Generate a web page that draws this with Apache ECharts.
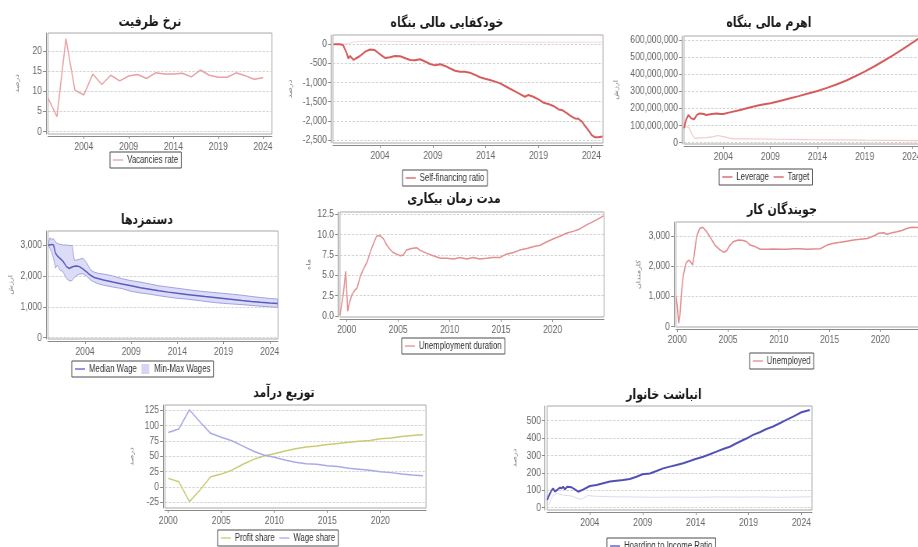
<!DOCTYPE html>
<html>
<head>
<meta charset="utf-8">
<script src="https://cdn.jsdelivr.net/npm/echarts@6/dist/echarts.min.js"></script>
<style>
html, body { margin: 0; padding: 0; background: #fff; overflow: hidden; width: 918px; height: 547px; }
/* the charts are drawn on a wider canvas and condensed horizontally */
#chart { width: 1177px; height: 547px; transform: scaleX(0.78); transform-origin: 0 0; }
</style>
</head>
<body>
<div id="chart"></div>
<script>
// ---------------- data ----------------
// Vacancies rate (yearly, %)
const vacancyYears = [2000, 2001, 2002, 2003, 2004, 2005, 2006, 2007, 2008, 2009, 2010, 2011, 2012,
  2013, 2014, 2015, 2016, 2017, 2018, 2019, 2020, 2021, 2022, 2023, 2024];
const vacancyRate = [8.3, 3.7, 23.1, 10.3, 9.1, 14.3, 11.7, 14.0, 12.6, 13.8, 14.2, 13.2, 14.6,
  14.3, 14.3, 14.5, 13.6, 15.3, 14.0, 13.5, 13.5, 14.6, 13.9, 13.0, 13.4];

// Firm self-financing ratio (%)
const selfFinYears = [1999.6, 2000.2, 2000.5, 2000.85, 2001.0, 2001.16, 2001.3, 2001.5, 2001.7, 2002.1,
  2002.6, 2003.05, 2003.5, 2004.0, 2004.5, 2004.95, 2005.4, 2005.9, 2006.4, 2006.84, 2007.3, 2007.8,
  2008.26, 2008.73, 2009.2, 2009.7, 2010.15, 2010.6, 2011.1, 2011.57, 2012.0, 2012.5, 2013.0, 2013.46,
  2013.94, 2014.4, 2014.9, 2015.36, 2015.83, 2016.3, 2016.78, 2017.25, 2017.7, 2018.04, 2018.5, 2019.0,
  2019.46, 2019.93, 2020.4, 2020.9, 2021.2, 2021.67, 2022.14, 2022.45, 2022.77, 2023.1, 2023.4, 2023.7,
  2024.03, 2024.35, 2024.66, 2025.05];
const selfFinRatio = [0, 0, -20, -235, -370, -305, -285, -410, -370, -305,
  -190, -135, -150, -260, -360, -340, -305, -310, -365, -410, -415, -390,
  -450, -515, -550, -520, -565, -625, -690, -715, -720, -740, -800, -860,
  -900, -930, -975, -1020, -1090, -1160, -1230, -1300, -1370, -1325, -1370, -1440,
  -1525, -1560, -1610, -1700, -1715, -1800, -1890, -1935, -1945, -2020, -2135, -2240,
  -2370, -2430, -2430, -2410];
// faint companion line near zero
const selfFinRefYears = [1999.6, 2000.5, 2001.0, 2001.5, 2002.5, 2003.5, 2005, 2007, 2010, 2013, 2016, 2019, 2022, 2025];
const selfFinRef = [0, 0, 20, 60, 80, 85, 75, 70, 65, 60, 60, 55, 55, 55];

// Firm leverage and target (millions)
const leverageYears = [1999.83, 1999.95, 2000.1, 2000.3, 2000.6, 2000.9, 2001.2, 2001.5, 2001.9, 2002.2,
  2002.76, 2003.3, 2003.65, 2004, 2004.7, 2005.8, 2006.8, 2007.9, 2009, 2010, 2011, 2012, 2013, 2014,
  2015, 2016, 2017, 2018, 2019, 2020, 2021, 2022, 2023, 2024, 2025.3];
const leverageM = [84, 115, 140, 162, 142, 136, 162, 171, 168, 162,
  168, 171, 168, 168, 177, 191, 205, 220, 230, 244, 258, 272, 287, 302,
  320, 340, 362, 388, 415, 445, 477, 510, 545, 582, 628];
const targetYears = [1999.83, 2000.1, 2000.4, 2000.7, 2001.0, 2001.5, 2002.2, 2003.0, 2003.4, 2004.0,
  2005, 2007, 2010, 2013, 2016, 2019, 2022, 2025.3];
const targetM = [84, 95, 85, 45, 25, 28, 30, 35, 42, 35, 22, 22, 20, 18, 17, 15, 14, 12];

// Wages: median and min-max band
const wageYears = [2000.0, 2000.2, 2000.4, 2000.6, 2000.8, 2001.0, 2001.3, 2001.6, 2002.0, 2002.3, 2002.6,
  2002.85, 2003.1, 2003.4, 2003.8, 2004.2, 2004.6, 2005.0, 2005.5, 2006, 2007, 2008, 2009, 2010, 2011,
  2012, 2013, 2014, 2015, 2016, 2017, 2018, 2019, 2020, 2021, 2022, 2023, 2024, 2024.85];
const wageMedian = [3000, 3000, 3020, 3000, 2740, 2650, 2570, 2480, 2300, 2240, 2290,
  2310, 2320, 2300, 2220, 2120, 2020, 1950, 1910, 1870, 1800, 1740, 1680, 1620, 1570,
  1520, 1475, 1435, 1400, 1365, 1330, 1300, 1270, 1235, 1200, 1170, 1145, 1125, 1110];
const wageMin = [3000, 2900, 2750, 2570, 2250, 2350, 2190, 2140, 1920, 1840, 1850,
  1950, 2010, 2060, 2070, 1990, 1870, 1800, 1740, 1700, 1640, 1590, 1500, 1450, 1410,
  1360, 1315, 1275, 1250, 1215, 1175, 1140, 1110, 1090, 1070, 1045, 1020, 1000, 980];
const wageMax = [3000, 3230, 3180, 3200, 3100, 3050, 3020, 3000, 3000, 2980, 2990,
  2510, 2510, 2540, 2570, 2420, 2190, 2120, 2080, 2060, 2000, 1910, 1845, 1800, 1740,
  1680, 1640, 1600, 1560, 1520, 1490, 1460, 1435, 1405, 1375, 1335, 1300, 1270, 1250];

// Unemployment duration (months)
const durationYears = [1999.35, 1999.68, 1999.9, 2000.0, 2000.1, 2000.26, 2000.5, 2000.8, 2001.0, 2001.3,
  2001.6, 2002.0, 2002.3, 2002.6, 2002.9, 2003.2, 2003.56, 2003.9, 2004.2, 2004.5, 2004.85, 2005.2,
  2005.5, 2005.8, 2006.3, 2006.8, 2007.1, 2007.8, 2008.4, 2009.1, 2009.7, 2010.4, 2011.0, 2011.65,
  2012.3, 2012.9, 2013.6, 2014.2, 2014.9, 2015.5, 2016.2, 2016.8, 2017.5, 2018.1, 2018.8, 2019.4,
  2020.1, 2020.7, 2021.4, 2022.0, 2022.65, 2023.3, 2023.95, 2024.4, 2024.95];
const durationMonths = [0.1, 2.8, 5.5, 3.2, 0.6, 1.6, 2.6, 3.2, 3.4, 4.8,
  5.7, 6.7, 7.9, 8.9, 9.8, 9.9, 9.5, 8.7, 8.2, 7.8, 7.6, 7.4,
  7.5, 8.1, 8.3, 8.4, 8.1, 7.7, 7.4, 7.1, 7.1, 7.0, 7.2, 7.0,
  7.2, 7.0, 7.1, 7.2, 7.2, 7.6, 7.8, 8.1, 8.3, 8.5, 8.7, 9.1,
  9.5, 9.8, 10.2, 10.4, 10.7, 11.2, 11.6, 11.9, 12.3];

// Unemployed job seekers (workers)
const unemployedYears = [1999.87, 2000.0, 2000.13, 2000.26, 2000.43, 2000.6, 2000.85, 2001.1, 2001.3, 2001.5,
  2001.64, 2001.9, 2002.2, 2002.5, 2002.8, 2003.2, 2003.7, 2004.2, 2004.6, 2004.87, 2005.2, 2005.5,
  2006.0, 2006.5, 2006.84, 2007.17, 2007.66, 2008.16, 2008.8, 2009.47, 2010.13, 2010.8, 2011.45, 2012.1,
  2012.76, 2013.4, 2014.08, 2014.74, 2015.4, 2016.05, 2016.7, 2017.37, 2018.0, 2018.7, 2019.34, 2019.84,
  2020.33, 2020.66, 2021.15, 2021.64, 2022.14, 2022.6, 2023.1, 2023.6, 2024.3];
const unemployedCount = [1000, 660, 110, 390, 1210, 1710, 2100, 2200, 2150, 2040,
  2320, 2980, 3250, 3290, 3180, 2980, 2700, 2540, 2460, 2520, 2700, 2810,
  2870, 2850, 2810, 2700, 2650, 2560, 2560, 2570, 2560, 2560, 2580, 2580,
  2560, 2570, 2580, 2700, 2760, 2790, 2830, 2870, 2890, 2920, 3000, 3090,
  3110, 3060, 3110, 3140, 3180, 3250, 3290, 3280, 3280];

// Income distribution (yearly, %)
const incomeYears = [2000, 2001, 2002, 2003, 2004, 2005, 2006, 2007, 2008, 2009, 2010, 2011, 2012,
  2013, 2014, 2015, 2016, 2017, 2018, 2019, 2020, 2021, 2022, 2023, 2024];
const profitShare = [14, 8.6, -24, -5, 16.7, 21, 27.4, 36.6, 44.6, 50.5, 54.3, 58.6, 62.4,
  65, 66.7, 69.4, 71, 73.1, 74.7, 75.8, 78.5, 80, 82.2, 83.8, 85];
const wageShare = [89, 94.6, 126, 106, 87.5, 81, 75.5, 67, 58.7, 52.2, 48.3, 44, 40.2,
  38, 37, 34.8, 33.2, 30.4, 28.8, 27.2, 25, 23.4, 21.2, 19.6, 18.5];

// Household hoarding to income ratio (%)
const hoardYears = [1999.97, 2000.16, 2000.38, 2000.54, 2000.69, 2000.85, 2001.17, 2001.32, 2001.48, 2001.64,
  2001.86, 2002.27, 2002.58, 2002.9, 2003.21, 2003.69, 2004, 2004.63, 2005.26, 2005.9, 2006.52, 2007.15,
  2007.78, 2008.41, 2008.98, 2009.67, 2010.3, 2010.93, 2011.56, 2012.19, 2012.82, 2013.45, 2013.92,
  2014.71, 2015.34, 2015.97, 2016.6, 2017.23, 2017.86, 2018.49, 2018.96, 2019.43, 2020.06, 2020.69,
  2021.32, 2021.95, 2022.58, 2023.21, 2024, 2024.79];
const hoardRatio = [44, 73, 100, 111, 92, 100, 115, 111, 121, 105,
  121, 117, 105, 92, 100, 115, 125, 130, 140, 150, 155, 159,
  165, 178, 192, 197, 211, 226, 236, 245, 255, 268, 278,
  293, 307, 322, 337, 350, 370, 389, 402, 418, 433, 452,
  466, 485, 504, 523, 548, 561];
const hoardRefYears = [2000.1, 2000.5, 2000.9, 2001.5, 2002.2, 2002.8, 2003.2, 2003.8, 2004.5, 2006, 2008,
  2010, 2012, 2014, 2016, 2018, 2020, 2022, 2024, 2024.9];
const hoardRef = [15, 70, 82, 72, 68, 55, 48, 70, 66, 63, 62, 60, 61, 60, 62, 61, 62, 60, 62, 63];

// Tick labels
const ticksFrom2004 = [2004, 2009, 2014, 2019, 2024];
const ticksFrom2000 = [2000, 2005, 2010, 2015, 2020];

// ---------------- drawing ----------------
// horizontal condensing applied by the CSS transform; page x positions are divided by it
const SX = 0.78;
const hx = v => v / SX;

const NUM_FONT = "'Liberation Sans',Arial,sans-serif";
const FA_FONT = "'DejaVu Sans',sans-serif";
const LINE_ICON = 'path://M0,0H16V1.6H0Z';
const SQUARE_ICON = 'path://M0,0H10V10H0Z';
const LEGEND_FONT_SIZE = 10;

const thousands = v => v.toLocaleString('en-US');
const oneDecimal = v => v.toFixed(1);

// layout of the eight panels (page pixels)
const panels = [
  { title: 'نرخ ظرفیت', tx: 146, ty: 10, box: [48, 33, 224, 101], x: [2000, 2025], xt: ticksFrom2004,
    y: [-0.6, 24.5], yt: [0, 5, 10, 15, 20], yname: 'درصد', gap: 26, fmt: thousands },
  { title: 'خودکفایی مالی بنگاه', tx: 443, ty: 11, box: [333, 35, 270, 108], x: [1999.55, 2025.1], xt: ticksFrom2004,
    y: [-2578, 243], yt: [-2500, -2000, -1500, -1000, -500, 0], yname: 'درصد', gap: 38, fmt: thousands },
  { title: 'اهرم مالی بنگاه', tx: 765, ty: 11, box: [684, 36, 240, 108], x: [1999.83, 2025.3], xt: ticksFrom2004,
    y: [-7.6e6, 623e6], yt: [0, 1e8, 2e8, 3e8, 4e8, 5e8, 6e8], yname: 'ارزش', gap: 63, fmt: thousands },
  { title: 'دستمزدها', tx: 143, ty: 208, box: [48, 231, 230, 108], x: [2000, 2024.9], xt: ticksFrom2004,
    y: [-42, 3453], yt: [0, 1000, 2000, 3000], yname: 'ارزش', gap: 32, fmt: thousands },
  { title: 'مدت زمان بیکاری', tx: 450, ty: 187, box: [340, 212, 264, 105], x: [1999.35, 2025], xt: ticksFrom2000,
    y: [-0.12, 12.78], yt: [0, 2.5, 5, 7.5, 10, 12.5], yname: 'ماه', gap: 26, fmt: oneDecimal },
  { title: 'جویندگان کار', tx: 778, ty: 198, box: [676, 222, 250, 105], x: [1999.87, 2024.5], xt: ticksFrom2000,
    y: [-10, 3463], yt: [0, 1000, 2000, 3000], yname: 'کارمندان', gap: 32, fmt: thousands },
  { title: 'توزیع درآمد', tx: 280, ty: 381, box: [165, 405, 261, 103], x: [1999.7, 2024.3], xt: ticksFrom2000,
    y: [-34.3, 133.7], yt: [-25, 0, 25, 50, 75, 100, 125], yname: 'درصد', gap: 28, fmt: thousands },
  { title: 'انباشت خانوار', tx: 660, ty: 383, box: [547, 406, 265, 104], x: [1999.95, 2025], xt: ticksFrom2004,
    y: [-13, 584], yt: [0, 100, 200, 300, 400, 500], yname: 'درصد', gap: 27, fmt: thousands }
];

const AXIS_GREY = '#8a8a8a';
const LABEL_GREY = '#666';

const grids = [], xAxes = [], yAxes = [], titles = [];
panels.forEach((p, i) => {
  grids.push({
    left: hx(p.box[0]), top: p.box[1], width: hx(p.box[2]), height: p.box[3],
    show: true, borderColor: '#a8a8a8', borderWidth: 1, backgroundColor: '#fff',
    containLabel: false, outerBoundsMode: 'none'
  });
  xAxes.push({
    type: 'value', gridIndex: i, min: p.x[0], max: p.x[1], offset: 2,
    axisLine: { show: true, onZero: false, lineStyle: { color: AXIS_GREY } },
    axisTick: { show: true, customValues: p.xt, length: 3, lineStyle: { color: AXIS_GREY } },
    axisLabel: { customValues: p.xt, formatter: v => String(v), color: LABEL_GREY,
      fontFamily: NUM_FONT, fontSize: 11, margin: 5 },
    splitLine: { show: false }
  });
  yAxes.push({
    type: 'value', gridIndex: i, min: p.y[0], max: p.y[1], offset: hx(2),
    name: p.yname, nameLocation: 'middle', nameRotate: 90, nameGap: hx(p.gap),
    nameTextStyle: { fontFamily: FA_FONT, fontSize: 8, color: '#777' },
    axisLine: { show: true, onZero: false, lineStyle: { color: AXIS_GREY } },
    axisTick: { show: true, customValues: p.yt, length: hx(3), lineStyle: { color: AXIS_GREY } },
    axisLabel: { customValues: p.yt, formatter: p.fmt, color: LABEL_GREY,
      fontFamily: NUM_FONT, fontSize: 11, margin: hx(4) },
    splitLine: { show: true, lineStyle: { color: '#d2d2d2', width: 1, type: [3, 2] } }
  });
  titles.push({
    text: p.title, left: hx(p.tx), top: p.ty, textAlign: 'center',
    textStyle: { fontFamily: FA_FONT, fontSize: 14, fontWeight: 'bold', color: '#1a1a1a' }
  });
});

const series = [];
function addLine(idx, name, xs, ys, color, width, extra) {
  series.push(Object.assign({
    type: 'line', name: name, xAxisIndex: idx, yAxisIndex: idx,
    data: xs.map((x, k) => [x, ys[k]]),
    symbol: 'none', showSymbol: false, smooth: false, silent: true,
    lineStyle: { color: color, width: width }, itemStyle: { color: color }
  }, extra || {}));
}
const toUnits = arr => arr.map(v => v * 1e6);

addLine(0, 'Vacancies rate', vacancyYears, vacancyRate, '#e8a0a4', 1.5);

addLine(1, undefined, selfFinRefYears, selfFinRef, '#f3dada', 1);
addLine(1, 'Self-financing ratio', selfFinYears, selfFinRatio, '#d65c5c', 2);

addLine(2, 'Target', targetYears, toUnits(targetM), '#f2cccc', 1.2);
addLine(2, 'Leverage', leverageYears, toUnits(leverageM), '#d65a5a', 2);

// wage band drawn as one polygon between the min and max curves
series.push({
  type: 'custom', name: 'Min-Max Wages', xAxisIndex: 3, yAxisIndex: 3, silent: true,
  data: wageYears.map((x, k) => [x, wageMin[k], wageMax[k]]),
  encode: { x: 0, y: [1, 2] },
  itemStyle: { color: '#d6d6f4' },
  renderItem: (params, api) => {
    if (params.dataIndex !== 0) return null;
    const upper = wageYears.map((x, k) => api.coord([x, wageMax[k]]));
    const lower = wageYears.map((x, k) => api.coord([x, wageMin[k]])).reverse();
    return {
      type: 'polygon', shape: { points: upper.concat(lower) },
      style: { fill: '#dcdcf7', stroke: '#a2a2e0', lineWidth: 1 }
    };
  }
});
addLine(3, 'Median Wage', wageYears, wageMedian, '#5a5ac2', 1.5);

addLine(4, 'Unemployment duration', durationYears, durationMonths, '#e38e90', 1.5);

addLine(5, 'Unemployed', unemployedYears, unemployedCount, '#e38a8c', 1.5);

addLine(6, 'Profit share', incomeYears, profitShare, '#cbcb72', 1.5);
addLine(6, 'Wage share', incomeYears, wageShare, '#a9a9e9', 1.5);

addLine(7, undefined, hoardRefYears, hoardRef, '#dcdcf2', 1);
addLine(7, 'Hoarding to Income Ratio', hoardYears, hoardRatio, '#4f4fb6', 2);

// legends are centred under their panels: measure the text to find the left edge
const measureCtx = document.createElement('canvas').getContext('2d');
measureCtx.font = LEGEND_FONT_SIZE + "px 'Liberation Sans', Arial, sans-serif";
const ITEM_W = 13, ITEM_GAP = 6, TEXT_GAP = 5, PAD = 4;
function legendBox(cx, top, items) {
  let w = 2 * PAD;
  items.forEach((it, k) => {
    const label = typeof it === 'string' ? it : it.name;
    w += ITEM_W + TEXT_GAP + measureCtx.measureText(label).width + (k ? ITEM_GAP : 0);
  });
  return {
    left: Math.round(hx(cx) - w / 2), top: top, orient: 'horizontal', data: items, selectedMode: false,
    borderColor: '#4a4a4a', borderWidth: 1, borderRadius: 0, padding: [3, PAD, 3, PAD],
    itemGap: ITEM_GAP, itemWidth: ITEM_W, itemHeight: 10, icon: LINE_ICON,
    textStyle: { fontFamily: NUM_FONT, fontSize: LEGEND_FONT_SIZE, color: '#333' }
  };
}
const legends = [
  legendBox(146, 152, ['Vacancies rate']),
  legendBox(445, 170, ['Self-financing ratio']),
  legendBox(766, 169, ['Leverage', { name: 'Target', itemStyle: { color: '#d65a5a' } }]),
  legendBox(143, 361, ['Median Wage', { name: 'Min-Max Wages', icon: SQUARE_ICON }]),
  legendBox(453, 338, ['Unemployment duration']),
  legendBox(782, 353, ['Unemployed']),
  legendBox(278, 530, ['Profit share', 'Wage share']),
  legendBox(661, 538, ['Hoarding to Income Ratio'])
];

const chart = echarts.init(document.getElementById('chart'), null, { renderer: 'canvas' });
chart.setOption({
  animation: false,
  backgroundColor: '#fff',
  tooltip: { show: false },
  title: titles,
  grid: grids,
  xAxis: xAxes,
  yAxis: yAxes,
  legend: legends,
  series: series
});
</script>
</body>
</html>
